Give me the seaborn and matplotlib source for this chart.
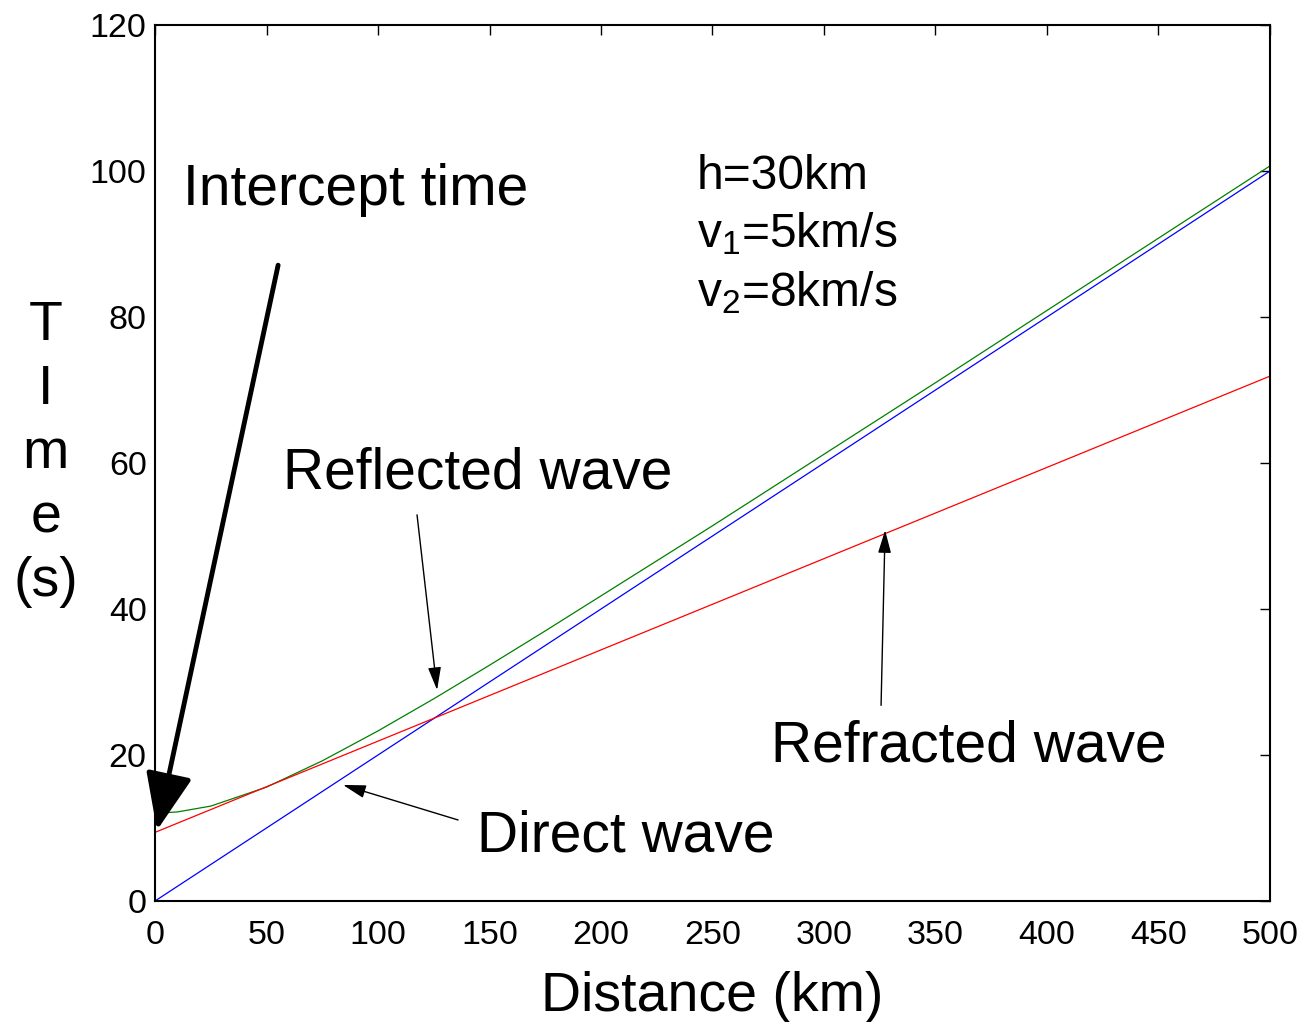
import matplotlib
matplotlib.use('Agg')
import matplotlib.pyplot as plt
import seaborn as sns

# Travel-time curves (distance in km, time in s)
x_direct = [0, 100, 200, 300, 400, 500]
t_direct = [0.0, 20.0, 40.0, 60.0, 80.0, 100.0]

x_refr = [0, 100, 200, 300, 400, 500]
t_refr = [9.4, 21.9, 34.4, 46.9, 59.4, 71.9]

x_refl = [0, 10, 25, 50, 75, 100, 125, 150, 175, 200, 250, 300, 350, 400, 450, 500]
t_refl = [12.0, 12.2, 13.0, 15.6, 19.2, 23.3, 27.7, 32.3, 37.0, 41.8, 51.4, 61.2, 71.0, 80.9, 90.8, 100.7]

x_ticks = [0, 50, 100, 150, 200, 250, 300, 350, 400, 450, 500]
y_ticks = [0, 20, 40, 60, 80, 100, 120]

sns.set_style('white')
plt.rcParams['font.family'] = ['Liberation Sans', 'DejaVu Sans']
plt.rcParams['mathtext.fontset'] = 'custom'
plt.rcParams['mathtext.rm'] = 'Liberation Sans'
for k in ['text.color', 'axes.labelcolor', 'xtick.color', 'ytick.color']:
    plt.rcParams[k] = 'black'

fig = plt.figure(figsize=(13.06, 10.22), dpi=100)
ax = fig.add_axes([0.1187, 0.1184, 0.8537, 0.8571])

sns.lineplot(x=x_refl, y=t_refl, color='#008000', lw=0.9, ax=ax)
sns.lineplot(x=x_direct, y=t_direct, color='#0000ff', lw=0.9, ax=ax)
sns.lineplot(x=x_refr, y=t_refr, color='#ff0000', lw=0.9, ax=ax)

ax.set_xlim(0, 500)
ax.set_ylim(0, 120)
ax.set_xticks(x_ticks)
ax.set_yticks(y_ticks)
ax.tick_params(direction='in', length=7, width=1, labelsize=24.5, top=True, right=True)
ax.tick_params(axis='x', pad=14)
ax.tick_params(axis='y', pad=6)
for s in ax.spines.values():
    s.set_linewidth(1.5)
    s.set_color('black')

ax.set_xlabel('Distance (km)', fontsize=40, labelpad=14)
ax.set_ylabel('T\nI\nm\ne\n(s)', fontsize=40, rotation=0, ha='center', va='center',
              linespacing=1.3)
ax.yaxis.set_label_coords(-0.098, 0.51)

# labels and arrows
ax.text(12.6, 97.4, 'Intercept time', fontsize=41, va='center')
ax.annotate('', xy=(0.9, 9.7), xytext=(55.2, 87.1),
            arrowprops=dict(arrowstyle='-|>,head_length=2.2,head_width=0.9', mutation_scale=16,
                            lw=3.5, color='black', shrinkA=0, shrinkB=0))

ax.text(57.4, 58.6, 'Reflected wave', fontsize=41, va='center')
ax.annotate('', xy=(126.5, 28.9), xytext=(117.5, 52.9),
            arrowprops=dict(arrowstyle='-|>,head_length=1.4,head_width=0.4', mutation_scale=10,
                            lw=1, color='black', shrinkA=0, shrinkB=0))

ax.text(276.2, 21.2, 'Refracted wave', fontsize=41, va='center')
ax.annotate('', xy=(327.4, 50.8), xytext=(325.6, 26.8),
            arrowprops=dict(arrowstyle='-|>,head_length=1.4,head_width=0.4', mutation_scale=10,
                            lw=1, color='black', shrinkA=0, shrinkB=0))

ax.text(144.4, 8.9, 'Direct wave', fontsize=41, va='center')
ax.annotate('', xy=(84.3, 15.9), xytext=(135.9, 11.1),
            arrowprops=dict(arrowstyle='-|>,head_length=1.4,head_width=0.4', mutation_scale=10,
                            lw=1, color='black', shrinkA=0, shrinkB=0))

ax.text(243, 99.3, 'h=30km', fontsize=34.5, va='center')
ax.text(243, 91.4, r'v$_1$=5km/s', fontsize=34.5, va='center')
ax.text(243, 83.3, r'v$_2$=8km/s', fontsize=34.5, va='center')

fig.savefig('out.png', dpi=100)
